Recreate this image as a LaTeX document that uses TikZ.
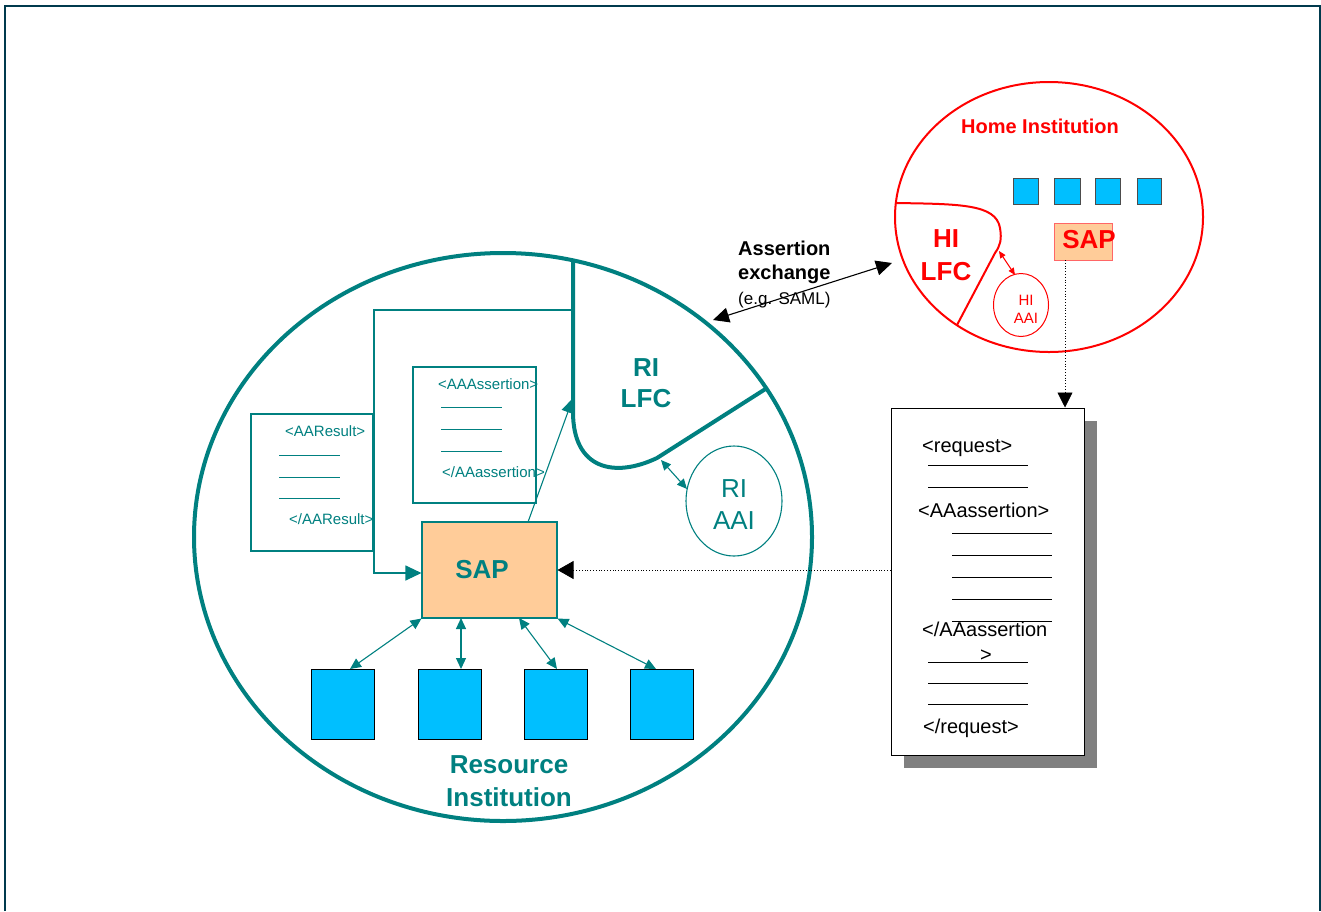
\documentclass[tikz,border=0pt]{standalone}
\usepackage{fontspec}
\setmainfont{Liberation Sans}
\usetikzlibrary{arrows.meta,shapes.geometric,calc}
\definecolor{tealc}{RGB}{0,128,128}
\definecolor{redc}{RGB}{255,0,0}
\definecolor{bluesq}{RGB}{0,191,255}
\definecolor{peach}{RGB}{255,204,153}
\definecolor{framec}{RGB}{0,58,77}
\definecolor{shadowc}{RGB}{128,128,128}
\begin{document}
\begin{tikzpicture}[x=1pt,y=-1pt,
  txt/.style={inner sep=0pt, anchor=base},
  txtl/.style={inner sep=0pt, anchor=base west},
  bigb/.style={font=\fontsize{26}{30}\selectfont\bfseries},
  bigr/.style={font=\fontsize{26}{30}\selectfont},
  midb/.style={font=\fontsize{20}{24}\selectfont\bfseries},
  docf/.style={font=\fontsize{20}{24}\selectfont},
  smallf/.style={font=\fontsize{15}{18}\selectfont},
  bsq/.style={draw=black, line width=1pt, fill=bluesq, minimum width=63pt, minimum height=70pt, inner sep=0pt},
  hsq/.style={draw=black!70, line width=0.8pt, fill=bluesq, inner sep=0pt, minimum height=26pt},
  tdoc/.style={draw=tealc, line width=1.1pt, fill=white, inner sep=0pt},
  tline/.style={tealc, line width=1pt},
  bline/.style={black, line width=1pt},
  tarr/.style={tealc, line width=1.1pt},
]
\tikzset{stip/.tip={Triangle[length=11pt,width=10pt]},
         btip/.tip={Triangle[length=16pt,width=15pt]}}
\useasboundingbox (0,0) rectangle (1321,911);
% frame
\draw[framec, line width=1.5pt] (5,911) -- (5,6) -- (1320,6) -- (1320,911);

% ---------------- Resource Institution ----------------
\draw[tealc, line width=4pt] (503,537) ellipse [x radius=309, y radius=284];
% RI LFC region
\draw[tealc, line width=4pt, line join=round]
  (573,259) -- (573,412) .. controls (573,470) and (615,478) .. (657,458) -- (767,388);
\node[txt, bigb, text=tealc] (rilfc1) at (646,376) {RI};
\node[txt, bigb, text=tealc] (rilfc2) at (646,407) {LFC};
\coordinate (lfcb) at (661,460);

% RI AAI
\node[draw=tealc, line width=1.1pt, ellipse, minimum width=96pt, minimum height=110pt, inner sep=0pt] (riaai) at (734,501) {};
\node[txt, bigr, text=tealc] at (734,497) {RI};
\node[txt, bigr, text=tealc] at (734,529) {AAI};
\coordinate (aaia) at (687,489);
\draw[tarr, {Triangle[length=10pt,width=9pt]}-{Triangle[length=10pt,width=9pt]}] (lfcb) -- (aaia);

% outer bracket line
\coordinate (brt) at (573,310);
\coordinate (brl) at (374,310);
\coordinate (brb) at (374,573);

% AAResult doc
\node[tdoc, minimum width=122pt, minimum height=137pt] (aares) at (312,482.5) {};
\node[txtl, smallf, text=tealc] at (285,436) {<AAResult>};
\draw[tline] (279,455) -- (340,455);
\draw[tline] (279,477) -- (340,477);
\draw[tline] (279,498) -- (340,498);
\node[txtl, smallf, text=tealc] at (289,524) {</AAResult>};

% AAAssertion doc
\node[tdoc, minimum width=123pt, minimum height=136pt] (aaass) at (474.5,435) {};
\node[txtl, smallf, text=tealc] at (438,389) {<AAAssertion>};
\draw[tline] (441,407) -- (502,407);
\draw[tline] (441,429) -- (502,429);
\draw[tline] (441,451) -- (502,451);
\node[txtl, smallf, text=tealc] at (442,477) {</AAassertion>};

% SAP
\node[draw=tealc, line width=1.1pt, fill=peach, minimum width=135pt, minimum height=96pt, inner sep=0pt] (sap) at (489.5,570) {};
\node[txt, bigb, text=tealc] at (482,578) {SAP};

\draw[tarr, -{Triangle[length=16pt,width=15pt]}] (brt) -- (brl) -- (brb) -- (sap.west |- brb);

% SAP -> RI LFC
\coordinate (sapt) at (528,522);
\coordinate (lfcl) at (573,398);
\draw[tarr, -{Triangle[length=15pt,width=13pt]}] (sapt) -- (lfcl);

% resource squares
\node[bsq] (r1) at (342.5,704) {};
\node[bsq] (r2) at (449.5,704) {};
\node[bsq] (r3) at (555.5,704) {};
\node[bsq] (r4) at (662,704) {};
\coordinate (s2) at (461,618);
\coordinate (s3) at (519,618);
\coordinate (e1) at (350,669);
\coordinate (e2) at (461,669);
\coordinate (e3) at (557,669);
\coordinate (e4) at (656,669);
\draw[tarr, stip-stip] (sap.south west) -- (e1);
\draw[tarr, stip-stip] (s2) -- (e2);
\draw[tarr, stip-stip] (s3) -- (e3);
\draw[tarr, stip-stip] (sap.south east) -- (e4);

\node[txt, bigb, text=tealc] at (509,773) {Resource};
\node[txt, bigb, text=tealc] at (509,806) {Institution};

% ---------------- Home Institution ----------------
\draw[redc, line width=2pt] (1049,217) ellipse [x radius=154, y radius=135];
\node[txt, midb, text=redc] at (1040,133) {Home Institution};
\node[hsq, minimum width=25pt] (h1) at (1025.5,191) {};
\node[hsq, minimum width=26pt] (h2) at (1067,191) {};
\node[hsq, minimum width=25pt] (h3) at (1107.5,191) {};
\node[hsq, minimum width=24pt] (h4) at (1149,191) {};
% HI LFC
\draw[redc, line width=2pt, line join=round]
  (895,203) .. controls (960,204) and (996,204) .. (1000,228)
  .. controls (1002,240) and (1000,246) .. (995,253) -- (957,325);
\node[txt, bigb, text=redc] at (946,247) {HI};
\node[txt, bigb, text=redc] at (946,280) {LFC};
% HI AAI
\node[draw=redc, line width=1pt, ellipse, minimum width=55pt, minimum height=63pt, inner sep=0pt] (hiaai) at (1021,305) {};
\node[txt, smallf, text=redc] at (1026,305) {HI};
\node[txt, smallf, text=redc] at (1026,323) {AAI};
\coordinate (hil) at (999,251);
\coordinate (hia) at (1015,275);
\draw[redc, line width=1pt, {Triangle[length=7pt,width=6pt]}-{Triangle[length=7pt,width=6pt]}] (hil) -- (hia);
% SAP red
\node[draw=redc!60, line width=0.8pt, fill=peach, minimum width=58pt, minimum height=37pt, inner sep=0pt] (hsap) at (1083,241.5) {};
\node[txt, bigb, text=redc] at (1089,248) {SAP};

% ---------------- Assertion exchange ----------------
\coordinate (ax1) at (713,320);
\coordinate (ax2) at (892,263);
\draw[black, line width=1.1pt, btip-btip] (ax1) -- (ax2);
\node[txtl, midb] at (738,255) {Assertion};
\node[txtl, midb] at (738,279) {exchange};
\node[txtl, font=\fontsize{17}{20}\selectfont] at (738,304) {(e.g. SAML)};

% ---------------- request document ----------------
\node[fill=shadowc, minimum width=193pt, minimum height=347pt, inner sep=0pt] (reqsh) at (1000.5,594.5) {};
\node[draw=black, line width=1pt, fill=white, minimum width=193pt, minimum height=347pt, inner sep=0pt] (req) at (987.5,581.5) {};
\node[txtl, docf] at (922,452) {<request>};
\draw[bline] (928,465) -- (1028,465);
\draw[bline] (928,487) -- (1028,487);
\node[txtl, docf] at (918,517) {<AAassertion>};
\draw[bline] (952,533) -- (1052,533);
\draw[bline] (952,555) -- (1052,555);
\draw[bline] (952,577) -- (1052,577);
\draw[bline] (952,599) -- (1052,599);
\draw[bline] (952,621) -- (1052,621);
\node[txtl, docf] at (922,636) {</AAassertion};
\draw[bline] (928,662) -- (1028,662);
\node[txt, docf] at (986,661) {>};
\draw[bline] (928,683) -- (1028,683);
\draw[bline] (928,704) -- (1028,704);
\node[txtl, docf] at (923,733) {</request>};

% dotted connectors
\coordinate (hsapb) at (1065,260);
\draw[black, line width=0.8pt, dotted, -{Triangle[length=15pt,width=15pt]}] (hsapb) -- (hsapb |- req.north);
\draw[black, line width=0.8pt, dotted, -{Triangle[length=16pt,width=18pt]}] (req.west |- sap.east) -- (sap.east);
\end{tikzpicture}
\end{document}
